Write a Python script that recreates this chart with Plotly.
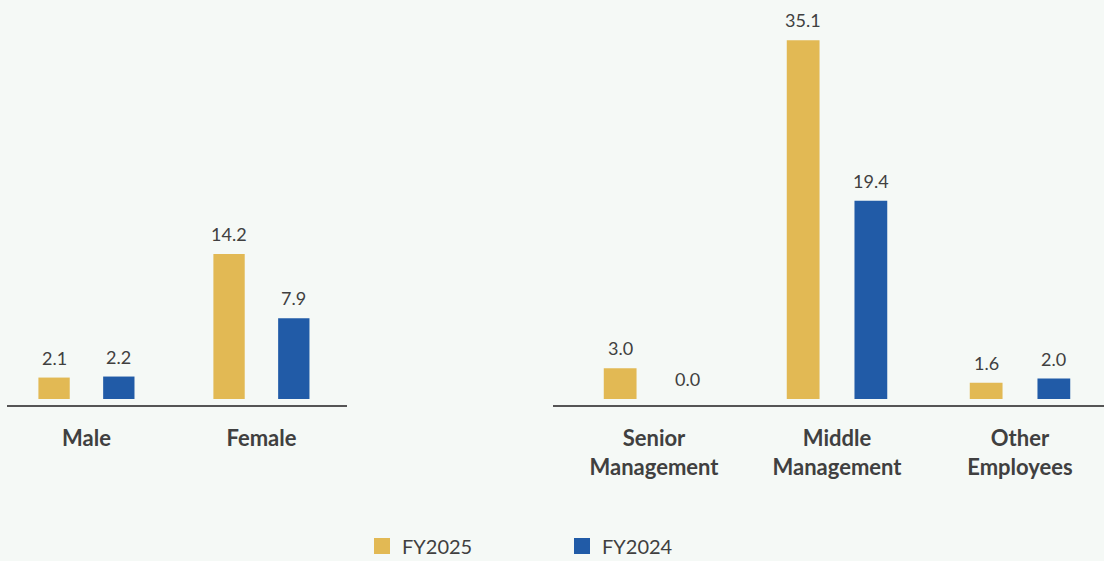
import plotly.graph_objects as go

# Data
gender_cats = ["Male", "Female"]
gender_fy2025 = [2.1, 14.2]
gender_fy2024 = [2.2, 7.9]

level_cats = ["Senior<br>Management", "Middle<br>Management", "Other<br>Employees"]
level_fy2025 = [3.0, 35.1, 1.6]
level_fy2024 = [0.0, 19.4, 2.0]

series_names = ["FY2025", "FY2024"]
series_colors = ["#E2B954", "#215BA7"]

W, H = 1104, 561
BG = "#F5F9F6"
TEXT = "#404040"
FONT = "Lato"

fig = go.Figure()

panels = [
    ("x", "y", gender_cats, [gender_fy2025, gender_fy2024], 175),
    ("x2", "y2", level_cats, [level_fy2025, level_fy2024], 183),
]

for xa, ya, cats, series, px_per_cat in panels:
    for i, (name, color, vals) in enumerate(zip(series_names, series_colors, series)):
        fig.add_trace(go.Bar(
            x=cats, y=vals, name=name, marker=dict(color=color, line=dict(width=0)),
            xaxis=xa, yaxis=ya, showlegend=False, hoverinfo="x+y+name",
        ))
        # value labels above each bar
        shift = (-1 if i == 0 else 1) * 0.185 * px_per_cat
        for c, v in zip(cats, vals):
            fig.add_annotation(
                x=c, y=v, xref=xa, yref=ya, text=f"{v:.1f}", showarrow=False,
                xshift=shift, yshift=20, yanchor="middle",
                font=dict(family=FONT, size=18, color=TEXT),
            )

# legend entries
for name, color in zip(series_names, series_colors):
    fig.add_trace(go.Scatter(
        x=[None], y=[None], mode="markers", name=name,
        marker=dict(symbol="square", size=16, color=color),
        xaxis="x", yaxis="y", showlegend=True,
    ))

px_per_unit = 10.22
plot_px = 385
y_lo = -0.585
y_hi = y_lo + plot_px / px_per_unit

axis_common = dict(
    showline=True, linecolor="#555555", linewidth=2, ticks="", showgrid=False,
    zeroline=False, tickfont=dict(family=FONT, size=22, color=TEXT, weight="bold"),
    ticklabelstandoff=13, fixedrange=True,
)
yaxis_common = dict(range=[y_lo, y_hi], visible=False, showgrid=False, zeroline=False,
                    domain=[156 / H, (156 + plot_px) / H], fixedrange=True)

fig.update_layout(
    width=W, height=H,
    margin=dict(l=0, r=0, t=0, b=0, autoexpand=False),
    paper_bgcolor=BG, plot_bgcolor=BG,
    barmode="group", bargap=0.26, bargroupgap=0.516,
    font=dict(family=FONT, color=TEXT),
    xaxis=dict(domain=[7 / W, 347 / W], range=[-0.454, 1.489], **axis_common),
    xaxis2=dict(domain=[553 / W, 1.0], range=[-0.552, 2.459], anchor="y2", **axis_common),
    yaxis=dict(anchor="x", **yaxis_common),
    yaxis2=dict(anchor="x2", **yaxis_common),
    legend=dict(
        orientation="h", x=362 / W, xanchor="left", y=15 / H, yanchor="middle",
        font=dict(family=FONT, size=20, color=TEXT), bgcolor="rgba(0,0,0,0)",
        entrywidth=155, entrywidthmode="pixels", itemclick=False, itemdoubleclick=False,
    ),
    showlegend=True,
)

fig.write_html("out.html")
